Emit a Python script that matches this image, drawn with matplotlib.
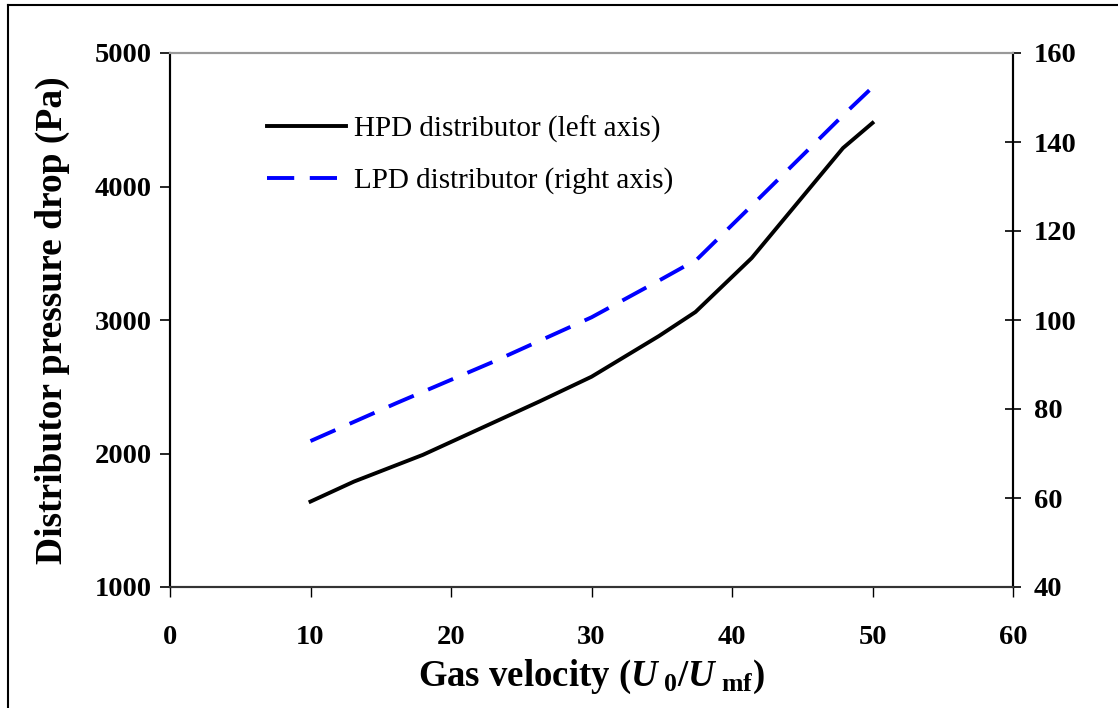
import matplotlib
matplotlib.use("Agg")
import matplotlib.pyplot as plt
from matplotlib.lines import Line2D

plt.rcParams['font.family'] = ['Liberation Serif', 'DejaVu Serif']
plt.rcParams['mathtext.fontset'] = 'custom'
plt.rcParams['mathtext.rm'] = 'Liberation Serif:bold'
plt.rcParams['mathtext.bf'] = 'Liberation Serif:bold'
plt.rcParams['mathtext.it'] = 'Liberation Serif:italic:bold'
plt.rcParams['mathtext.bfit'] = 'Liberation Serif:italic:bold'

# Data
hpd_x = [10, 13.1, 18, 26.3, 30, 34.8, 37.4, 41.4, 47.9, 50]
hpd_y = [1640, 1790, 1990, 2390, 2575, 2880, 3060, 3464, 4288, 4476]
lpd_x = [10, 16.1, 23, 30, 35, 37.5, 41.5, 48, 50]
lpd_y = [72.8, 81.3, 90.6, 100.6, 109.2, 113.6, 126.0, 146.3, 152.3]

x_ticks = [0, 10, 20, 30, 40, 50, 60]
left_ticks = [1000, 2000, 3000, 4000, 5000]
right_ticks = [40, 60, 80, 100, 120, 140, 160]

fig = plt.figure(figsize=(11.18, 7.08), dpi=100)
ax = fig.add_axes([170/1118, 1-587/708, (1013-170)/1118, (587-53)/708])
ax2 = ax.twinx()

l1, = ax.plot(hpd_x, hpd_y, color='black', lw=2.8, solid_joinstyle='round')
l2, = ax2.plot(lpd_x, lpd_y, color='#0000ff', lw=2.8, dashes=(7, 4))

ax.set_xlim(0, 60)
ax.set_ylim(1000, 5000)
ax2.set_ylim(40, 160)
ax.set_xticks(x_ticks)
ax.set_yticks(left_ticks)
ax2.set_yticks(right_ticks)

tick_font = dict(fontsize=20.5, fontweight='bold')
ax.set_xticklabels([str(v) for v in x_ticks], **tick_font)
ax.set_yticklabels([str(v) for v in left_ticks], **tick_font)
ax2.set_yticklabels([str(v) for v in right_ticks], **tick_font)

ax.tick_params(axis='x', direction='out', length=7, width=1, pad=20)
ax.tick_params(axis='y', direction='out', length=7, width=1.2, pad=6)
ax2.tick_params(axis='y', direction='inout', length=12, width=1.2, pad=9)

for a in (ax, ax2):
    a.spines['top'].set_color('#999999')
    a.spines['top'].set_linewidth(1.5)
    a.spines['bottom'].set_color('#333333')
    a.spines['bottom'].set_linewidth(1.5)
    a.spines['left'].set_linewidth(1.5)
    a.spines['right'].set_linewidth(1.5)

ax.set_ylabel('Distributor pressure drop (Pa)', fontsize=27, fontweight='bold', labelpad=18)
ax.set_xlabel(r'Gas velocity ($\mathbfit{U}_{\ \mathbf{0}}$/$\mathbfit{U}_{\ \mathbf{mf}}$)',
              fontsize=26.5, fontweight='bold', labelpad=6)

ax.legend([l1, l2], ['HPD distributor (left axis)', 'LPD distributor (right axis)'],
          loc='upper left', bbox_to_anchor=(0.101, 0.905), frameon=False,
          fontsize=21, handlelength=2.7, handletextpad=0.3, labelspacing=0.85,
          borderaxespad=0)

# figure border (top and left)
fig.add_artist(Line2D([8/1118, 8/1118], [0, 1-5/708], color='black', lw=1.5, transform=fig.transFigure))
fig.add_artist(Line2D([8/1118, 1], [1-5/708, 1-5/708], color='black', lw=1.5, transform=fig.transFigure))

fig.savefig('out.png', dpi=100)
